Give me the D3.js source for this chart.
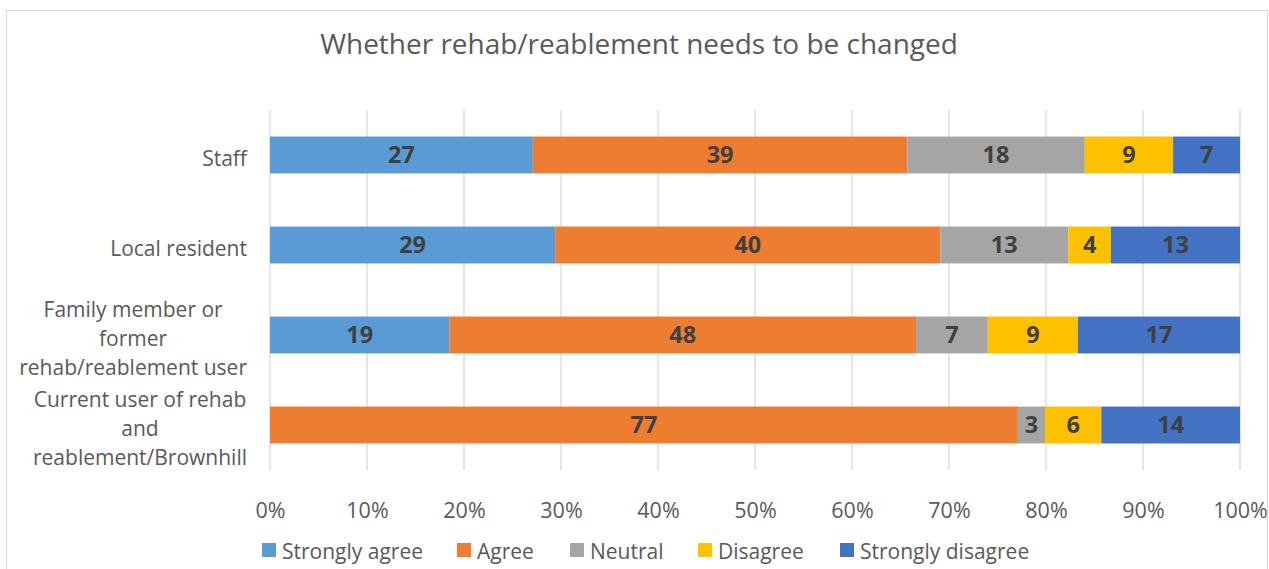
<!DOCTYPE html>
<html><head><meta charset="utf-8">
<script src="https://cdn.jsdelivr.net/npm/d3@7"></script>
<style>body{margin:0;background:#fff}svg{display:block}text{font-family:"Open Sans","Noto Sans",sans-serif}</style>
</head><body><svg id="c" width="1269" height="569"></svg>
<script>
const categories = ["Staff","Local resident","Family member or former rehab/reablement user","Current user of rehab and reablement/Brownhill"];
const categoryLines = [["Staff"],["Local resident"],["Family member or","former","rehab/reablement user"],["Current user of rehab","and","reablement/Brownhill"]];
const seriesNames = ["Strongly agree","Agree","Neutral","Disagree","Strongly disagree"];
// percentages (labels show them rounded)
const stronglyAgree = [27.1,29.4,18.5,0];
const agree = [38.6,39.7,48.1,77.1];
const neutral = [18.3,13.2,7.4,2.8];
const disagree = [9.1,4.4,9.3,5.8];
const stronglyDisagree = [6.9,13.3,16.7,14.3];
const tickLabels = ["0%","10%","20%","30%","40%","50%","60%","70%","80%","90%","100%"];
const colors = ["#5B9BD5","#ED7D31","#A5A5A5","#FFC000","#4472C4"];

(function(){
const svg = d3.select("#c");
const W=1269,H=569;
svg.append("rect").attr("x",6.5).attr("y",10.5).attr("width",W-8).attr("height",H-6).attr("fill","#fff").attr("stroke","#d9d9d9");

const pl=270,pr=1240,pt=110,pb=470;
const x=d3.scaleLinear().domain([0,1]).range([pl,pr]);
const y=d3.scaleBand().domain(categories).range([pt,pb]).paddingInner(0.59).paddingOuter(0.295);

const title=svg.append("text").attr("x",639).attr("y",54).attr("text-anchor","middle").attr("fill","#595959").attr("font-size",24).text("Whether rehab/reablement needs to be changed");
const tw=title.node().getComputedTextLength(); title.attr("font-size",24*638/tw);

svg.append("g").selectAll("line").data(d3.range(0,11)).join("line")
 .attr("x1",d=>x(d/10)).attr("x2",d=>x(d/10)).attr("y1",pt).attr("y2",pb)
 .attr("stroke","#d9d9d9").attr("stroke-width",1.3);

const series=[stronglyAgree,agree,neutral,disagree,stronglyDisagree];
const rows=categories.map((c,i)=>{const o={cat:c};seriesNames.forEach((s,j)=>o[s]=series[j][i]);o.total=series.reduce((a,s)=>a+s[i],0);return o;});
const stack=d3.stack().keys(seriesNames).value((d,k)=>d[k]/d.total)(rows);

const g=svg.append("g");
stack.forEach((layer,j)=>{
  g.selectAll(null).data(layer).join("rect")
   .attr("x",d=>x(d[0])).attr("width",d=>Math.max(0,x(d[1])-x(d[0])))
   .attr("y",d=>y(d.data.cat)).attr("height",y.bandwidth()).attr("fill",colors[j]);
  g.selectAll(null).data(layer.filter(d=>d.data[seriesNames[j]]>0)).join("text")
   .attr("x",d=>(x(d[0])+x(d[1]))/2).attr("y",d=>y(d.data.cat)+y.bandwidth()/2)
   .attr("dy","0.36em").attr("text-anchor","middle").attr("font-weight","bold").attr("font-size",23.5)
   .attr("fill","#404040").text(d=>Math.round(d.data[seriesNames[j]]));
});

const xa=d3.axisBottom(x).tickValues(d3.range(0,11).map(d=>d/10)).tickFormat((d,i)=>tickLabels[i]).tickSize(0).tickPadding(0);
const xg=svg.append("g").attr("transform",`translate(0,${pb})`).call(xa);
xg.select(".domain").remove();
xg.selectAll("text").attr("font-size",21.5).attr("fill","#595959").attr("y",47.5).attr("dy",0).attr("font-family",'"Open Sans","Noto Sans",sans-serif');

const yg=svg.append("g");
categories.forEach((c,i)=>{
  const lines=categoryLines[i];
  const cy=y(c)+y.bandwidth()/2+3;
  const lh=29;
  const t=yg.append("text").attr("font-size",21).attr("fill","#595959").attr("text-anchor","middle");
  lines.forEach((l,k)=>t.append("tspan").text(l).attr("y",cy+(k-(lines.length-1)/2)*lh).attr("dy","0.36em"));
  let mw=0; t.selectAll("tspan").each(function(){mw=Math.max(mw,this.getComputedTextLength());});
  t.selectAll("tspan").attr("x",247-mw/2);
});

const lg=svg.append("g");
const lx=[262,457,570,698,840];
seriesNames.forEach((s,j)=>{
  lg.append("rect").attr("x",lx[j]).attr("y",543).attr("width",14).attr("height",14).attr("fill",colors[j]);
  lg.append("text").attr("x",lx[j]+20).attr("y",551).attr("dy","0.36em").attr("font-size",21).attr("fill","#595959").text(s);
});
})();
</script></body></html>
